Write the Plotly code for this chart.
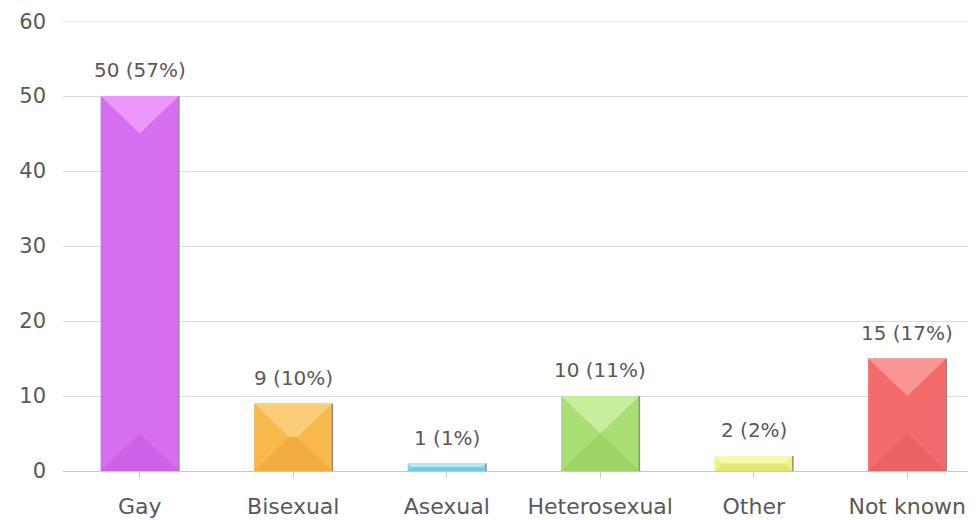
import plotly.graph_objects as go

categories = ["Gay", "Bisexual", "Asexual", "Heterosexual", "Other", "Not known"]
counts = [50, 9, 1, 10, 2, 15]
percents = [57, 10, 1, 11, 2, 17]
colors = ["#D66EF2", "#F7B84C", "#82D6E8", "#A9DE74", "#EFF27C", "#F46B6B"]
top_colors = ["#EC97FA", "#FBCD78", "#B4EAF4", "#C6EE9C", "#F8FAB0", "#F99595"]
bottom_colors = ["#CB62E8", "#F0AD42", "#72CADE", "#9DD468", "#E5E870", "#EB6262"]
y_ticks = [0, 10, 20, 30, 40, 50, 60]

labels = [f"{c} ({p}%)" for c, p in zip(counts, percents)]
FONT = "DejaVu Sans, Open Sans, sans-serif"
TXT = "#595959"
BAR_W = 0.51

fig = go.Figure()
fig.add_trace(go.Bar(
    x=list(range(len(categories))), y=counts,
    width=BAR_W,
    marker=dict(color=colors, line=dict(width=0)),
    hoverinfo="skip",
))

# bevel facets derived from the data values
for i, v in enumerate(counts):
    d = min(5.0, v / 2)
    xl, xr = i - BAR_W / 2, i + BAR_W / 2
    inset = BAR_W / 2 * d / 5.0
    fig.add_trace(go.Scatter(
        x=[xl, xr, xr - inset, xl + inset, xl],
        y=[v, v, v - d, v - d, v],
        fill="toself", fillcolor=top_colors[i], mode="lines",
        line=dict(width=0), hoverinfo="skip", showlegend=False,
    ))
    fig.add_trace(go.Scatter(
        x=[xl, xr, xr - inset, xl + inset, xl],
        y=[0, 0, d, d, 0],
        fill="toself", fillcolor=bottom_colors[i], mode="lines",
        line=dict(width=0), hoverinfo="skip", showlegend=False,
    ))
    fig.add_trace(go.Scatter(
        x=[xr, xr], y=[0, v], mode="lines",
        line=dict(width=1.5, color="#8c8c8c"), hoverinfo="skip", showlegend=False,
    ))
    fig.add_annotation(
        x=i, y=v, text=labels[i], showarrow=False, yanchor="bottom",
        yshift=12, font=dict(family=FONT, size=20, color=TXT),
    )

# top gridline (at the edge of the plot area)
fig.add_shape(type="line", xref="paper", x0=0, x1=1, yref="y",
              y0=y_ticks[-1], y1=y_ticks[-1], line=dict(color="#dcdcdc", width=1),
              layer="below")

fig.update_layout(
    width=976, height=520,
    margin=dict(l=55, r=0, t=13, b=57),
    paper_bgcolor="white", plot_bgcolor="white",
    showlegend=False,
    font=dict(family=FONT, size=20, color=TXT),
)
fig.update_xaxes(
    tickmode="array", tickvals=list(range(len(categories))), ticktext=categories,
    range=[-0.5, 5.5],
    showline=True, linecolor="#c8c8c8", linewidth=1,
    tickson="boundaries", ticks="outside", ticklen=6, tickcolor="#c8c8c8",
    showgrid=False, ticklabelstandoff=10,
    tickfont=dict(family=FONT, size=22, color=TXT),
)
fig.update_yaxes(
    range=[0, 60.02], tickvals=y_ticks,
    showgrid=True, gridcolor="#dcdcdc", gridwidth=1,
    zeroline=False, showline=False, ticks="",
    ticklabelstandoff=16,
    tickfont=dict(family=FONT, size=21, color=TXT),
)

fig.write_html("out.html")
